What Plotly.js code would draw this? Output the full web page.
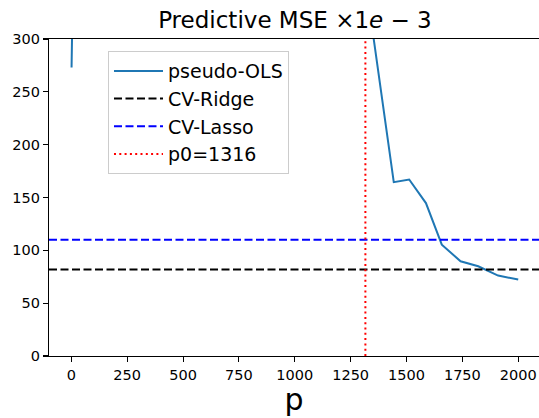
<!DOCTYPE html>
<html>
<head>
<meta charset="utf-8">
<script src="https://cdn.plot.ly/plotly-3.0.1.min.js"></script>
<style>html,body{margin:0;padding:0;background:#fff;}#chart{width:539px;height:418px;}</style>
</head>
<body>
<div id="chart"></div>
<script>
// pseudo-OLS predictive MSE (x1e-3); values between p~50 and p~1300 lie far above the visible range
const pValues = [1, 50, 200, 500, 800, 1000, 1150, 1250, 1300, 1340, 1443, 1512, 1587, 1658, 1742, 1821, 1910, 2000];
const mseOLS  = [273, 2500, 3000, 3500, 4200, 5000, 6000, 8000, 2000, 320, 164.5, 167, 144.7, 105.4, 89.6, 84.9, 76.1, 72.4];
const ridgeMSE = 81.8;
const lassoMSE = 110;
const p0 = 1316;
const xRange = [-100, 2093];
const yRange = [0, 300];

const font = "DejaVu Sans, sans-serif";

const traces = [
  {x: pValues, y: mseOLS, mode: 'lines', name: 'pseudo-OLS',
   line: {color: '#1f77b4', width: 2}},
  {x: xRange, y: [ridgeMSE, ridgeMSE], mode: 'lines', name: 'CV-Ridge',
   line: {color: '#000000', width: 2, dash: '8px,3.5px'}},
  {x: xRange, y: [lassoMSE, lassoMSE], mode: 'lines', name: 'CV-Lasso',
   line: {color: '#0000ff', width: 2, dash: '8px,3.5px'}},
  {x: [p0, p0], y: yRange, mode: 'lines', name: 'p0=' + p0,
   line: {color: '#ff0000', width: 2, dash: '2px,3.3px'}}
];

const layout = {
  width: 539, height: 418,
  margin: {l: 49, r: 0, t: 38.5, b: 61.5},
  paper_bgcolor: '#ffffff', plot_bgcolor: '#ffffff',
  font: {family: font, color: '#000000'},
  title: {text: 'Predictive MSE ×1<i>e</i> − 3', font: {family: font, size: 23, color: '#000'},
          x: 0.5472, xanchor: 'center', y: 0.933, yref: 'container', yanchor: 'bottom'},
  showlegend: true,
  legend: {x: 0.1204, y: 0.962, xanchor: 'left', yanchor: 'top',
           bgcolor: 'rgba(255,255,255,0.8)', bordercolor: '#cccccc', borderwidth: 1,
           font: {family: font, size: 19, color: '#000'}, itemwidth: 49, tracegroupgap: 0},
  xaxis: {range: xRange, tickvals: [0, 250, 500, 750, 1000, 1250, 1500, 1750, 2000],
          showgrid: false, zeroline: false, showline: true, linecolor: '#000', linewidth: 1.1,
          mirror: true, ticks: 'outside', ticklen: 5, tickwidth: 1.1, tickcolor: '#000',
          tickfont: {family: font, size: 14.5, color: '#000'},
          title: {text: 'p', font: {family: font, size: 30, color: '#000'}, standoff: 6}},
  yaxis: {range: yRange, tickvals: [0, 50, 100, 150, 200, 250, 300],
          showgrid: false, zeroline: false, showline: true, linecolor: '#000', linewidth: 1.1,
          ticks: 'outside', ticklen: 5, tickwidth: 1.1, tickcolor: '#000',
          tickfont: {family: font, size: 14.5, color: '#000'}}
};

Plotly.newPlot('chart', traces, layout, {displayModeBar: false, staticPlot: true});
</script>
</body>
</html>
